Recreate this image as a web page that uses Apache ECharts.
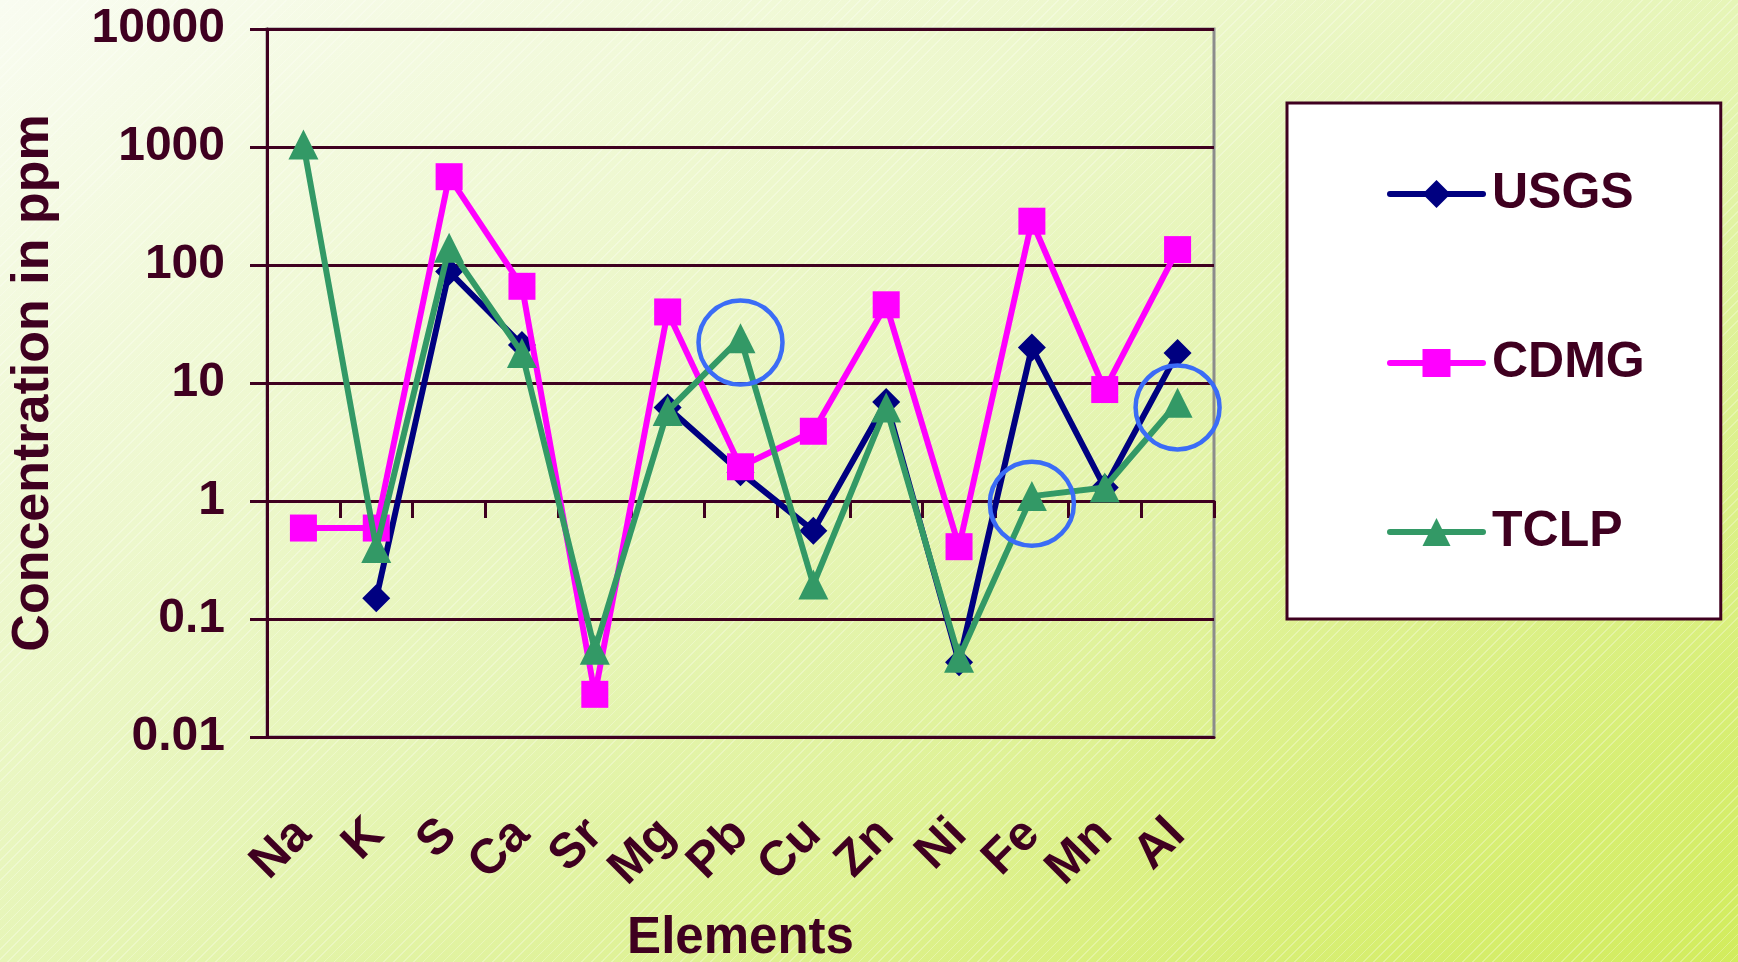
<!DOCTYPE html>
<html>
<head>
<meta charset="utf-8">
<script src="https://cdn.jsdelivr.net/npm/echarts@6/dist/echarts.min.js"></script>
<style>
  html, body { margin: 0; padding: 0; }
  body {
    width: 1738px; height: 962px; overflow: hidden;
    background:
      repeating-linear-gradient(135deg, rgba(255,255,255,0) 0px, rgba(255,255,255,0) 6px, rgba(255,255,255,0.28) 6px, rgba(255,255,255,0.28) 7px),
      linear-gradient(to bottom right, #f9fcf1 0%, #e6f5b7 50%, #d2ec5c 100%);
  }
  #chart { width: 1738px; height: 962px; }
</style>
</head>
<body>
<div id="chart"></div>
<script>
// ---- data ----
const categories = ['Na', 'K', 'S', 'Ca', 'Sr', 'Mg', 'Pb', 'Cu', 'Zn', 'Ni', 'Fe', 'Mn', 'Al'];
const usgs = [null, 0.15, 88, 21, null, 6.2, 1.75, 0.56, 6.9, 0.043, 20, 1.3, 18];
const cdmg = [0.59, 0.59, 560, 66, 0.023, 40, 1.95, 3.9, 46, 0.41, 235, 8.8, 135];
const tclp = [1050, 0.40, 140, 18, 0.055, 5.8, 24, 0.196, 6.2, 0.047, 1.1, 1.3, 6.8];
const yTickLabels = ['0.01', '0.1', '1', '10', '100', '1000', '10000'];
const circledPoints = [['Pb', 22], ['Fe', 0.95], ['Al', 6.2]];
const seriesNames = ['USGS', 'CDMG', 'TCLP'];

// ---- style ----
const TXT = '#3f0020';
const FONT = "'Liberation Sans', Arial, sans-serif";
const gridTop = 29, gridBottom = 225, gridLeft = 267, gridRight = 524;
const gridH = 962 - gridTop - gridBottom;
const LW = 6;

const chart = echarts.init(document.getElementById('chart'), null, { renderer: 'canvas' });

const option = {
  backgroundColor: 'transparent',
  animation: false,
  textStyle: { fontFamily: FONT },
  grid: {
    left: gridLeft, right: gridRight, top: gridTop, bottom: gridBottom,
    containLabel: false, outerBoundsMode: 'none',
    show: true, borderColor: '#8c8c8c', borderWidth: 3, backgroundColor: 'transparent'
  },
  legend: {
    orient: 'vertical',
    left: 1287, top: 103,
    padding: [66, 76, 62, 100],
    itemGap: 119,
    itemWidth: 93, itemHeight: 35,
    backgroundColor: '#ffffff',
    borderColor: TXT, borderWidth: 3, borderRadius: 0,
    lineStyle: { width: LW, cap: 'round' },
    data: seriesNames,
    textStyle: { color: TXT, fontSize: 50, fontWeight: 'bold', fontFamily: FONT, padding: [0, 0, 0, 4] }
  },
  xAxis: [
    {
      type: 'category', data: categories, boundaryGap: true,
      axisLine: { show: true, onZero: false, lineStyle: { color: TXT, width: 3 } },
      axisTick: { show: false },
      axisLabel: {
        interval: 0, rotate: 45, margin: 90,
        color: TXT, fontSize: 49, fontWeight: 'bold', fontFamily: FONT
      },
      name: 'Elements', nameLocation: 'middle', nameGap: 176,
      nameTextStyle: { color: TXT, fontSize: 51, fontWeight: 'bold', fontFamily: FONT }
    },
    {
      type: 'category', data: categories, boundaryGap: true,
      position: 'bottom', offset: -gridH * 2 / 6,
      axisLine: { show: true, onZero: false, lineStyle: { color: TXT, width: 3 } },
      axisTick: { show: true, inside: false, length: 17, lineStyle: { color: TXT, width: 3 } },
      axisLabel: { show: false }
    }
  ],
  yAxis: {
    type: 'log', logBase: 10, min: 0.01, max: 10000,
    axisLine: { show: true, lineStyle: { color: TXT, width: 3 } },
    axisTick: { show: true, inside: false, length: 17, lineStyle: { color: TXT, width: 3 } },
    splitLine: { show: true, lineStyle: { color: TXT, width: 3 } },
    axisLabel: {
      margin: 42, color: TXT, fontSize: 48, fontWeight: 'bold', fontFamily: FONT,
      formatter: function (v) {
        const i = Math.round(Math.log10(v)) + 2;
        return yTickLabels[i] !== undefined ? yTickLabels[i] : '';
      }
    },
    name: 'Concentration in ppm', nameLocation: 'middle', nameRotate: 90, nameGap: 207,
    nameTextStyle: { color: TXT, fontSize: 52, fontWeight: 'bold', fontFamily: FONT }
  },
  series: [
    {
      name: 'USGS', type: 'line', data: usgs, connectNulls: false,
      symbol: 'diamond', symbolSize: 28,
      lineStyle: { color: '#000080', width: LW },
      itemStyle: { color: '#000080' },
      z: 2
    },
    {
      name: 'CDMG', type: 'line', data: cdmg,
      symbol: 'rect', symbolSize: 27,
      lineStyle: { color: '#ff00ff', width: LW },
      itemStyle: { color: '#ff00ff' },
      z: 3
    },
    {
      name: 'TCLP', type: 'line', data: tclp,
      symbol: 'triangle', symbolSize: 30,
      lineStyle: { color: '#339966', width: LW },
      itemStyle: { color: '#339966' },
      z: 4,
      markPoint: {
        symbol: 'circle', symbolSize: 84, silent: true,
        itemStyle: { color: 'rgba(0,0,0,0)', borderColor: '#3b6cf6', borderWidth: 4.5 },
        label: { show: false },
        data: circledPoints.map(function (p) { return { coord: p }; })
      }
    }
  ]
};

chart.setOption(option);
</script>
</body>
</html>
